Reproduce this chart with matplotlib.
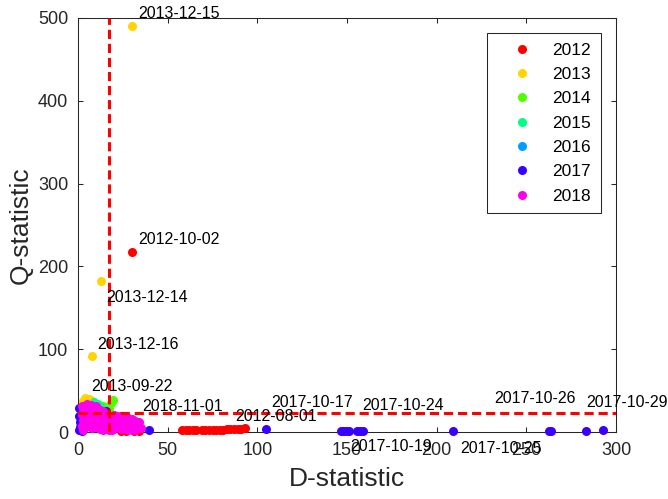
"""
Q-statistic vs D-statistic scatter, one colour per year, with
threshold lines and a few labelled outlier days.
"""

import matplotlib
matplotlib.use("Agg")
import matplotlib.pyplot as plt
from matplotlib.lines import Line2D

plt.rcParams["font.family"] = ["Liberation Sans", "DejaVu Sans"]

# ──────────────────────────────────────────────
# Data
# ──────────────────────────────────────────────
YEARS = ["2012", "2013", "2014", "2015", "2016", "2017", "2018"]

d_2012 = [30.3, 24, 27, 31, 34, 58, 60, 62, 64, 66, 69, 71, 73, 75, 77, 79, 81, 83, 85, 87, 89, 91, 93]
q_2012 = [217.8, 1, 1, 1.5, 1, 2.4, 2.4, 2.4, 2.4, 2.4, 2.4, 2.4, 2.4, 2.6, 2.6, 2.8, 3, 3.2, 3.5, 3.8, 4, 4.3, 4.5]

d_2013 = [30.3, 12.8, 7.6, 4, 6, 3, 7.5, 5, 2]
q_2013 = [490.7, 182.4, 91.8, 41, 40, 38, 39, 36, 32]

d_2014 = [19.5, 18.5, 11, 14, 17]
q_2014 = [38.5, 35, 34, 31, 28]

d_2015 = [9, 10.5, 8, 12, 6]
q_2015 = [36, 34, 33, 31, 30]

d_2016 = [4, 7, 10, 2, 13]
q_2016 = [20, 25, 22, 15, 26]

d_2017 = [0.5, 15.5, 0.8, 1, 1.2, 0.5, 2, 39.4, 104.7, 146.5, 148, 149.5, 151,
          155.5, 157, 159, 209.3, 262.5, 264, 283.3, 293]
q_2017 = [29, 26, 20, 12, 6, 2, 1, 2.5, 3.2, 1, 1, 1.5, 1,
          1, 1, 1, 1, 1, 1, 1, 3]

d_2018 = [5, 7, 10, 2, 4, 6, 8, 10, 12, 14, 3, 5, 7, 9, 11, 13, 2, 4, 6, 8, 10, 12, 14,
          3, 5, 7, 9, 11, 13, 2, 4, 6, 8, 10, 12, 14, 3, 16, 16, 16,
          18, 20, 22, 24, 26, 28, 30, 32, 34, 19, 21, 23, 25, 27, 29, 31, 33, 35,
          18, 20, 22, 24, 26, 28, 30, 32, 17, 19, 25, 27]
q_2018 = [34, 33, 31, 31, 30, 29, 28, 28, 27, 25, 28, 26, 27, 25, 24, 22, 22, 20, 22, 19, 18, 17, 16,
          15, 13, 14, 12, 11, 10, 8, 6, 8, 5, 6, 4, 3, 3, 20, 12, 5,
          20, 21, 19, 20, 18, 17, 16, 14, 12, 13, 11, 12, 10, 11, 9, 8, 6, 5,
          7, 5, 6, 4, 5, 3, 4, 3, 3, 2, 8, 6]

D_SERIES = [d_2012, d_2013, d_2014, d_2015, d_2016, d_2017, d_2018]
Q_SERIES = [q_2012, q_2013, q_2014, q_2015, q_2016, q_2017, q_2018]

# Threshold lines
D_THRESHOLD = 17.3
Q_THRESHOLD = 23.3

# Labelled days: (label, text x, text y) in data units
ANNOT_LABELS = ["2013-12-15", "2012-10-02", "2013-12-14", "2013-12-16", "2013-09-22",
                "2018-11-01", "2012-08-01", "2017-10-17", "2017-10-24", "2017-10-19",
                "2017-10-25", "2017-10-26", "2017-10-29"]
ANNOT_X = [33.6, 33.6, 16.0, 10.8, 7.6, 36.0, 87.5, 107.6, 158.6, 152.0, 213.0, 232.2, 283.2]
ANNOT_Y = [505, 233, 162.7, 106.3, 54.7, 30.6, 19.3, 36.2, 32.2, -17.7, -20, 40.3, 36.3]

# ──────────────────────────────────────────────
# Plot
# ──────────────────────────────────────────────
AX_COLOR = (0.15, 0.15, 0.15)
cmap = plt.get_cmap("hsv")
colors = [cmap(i / len(YEARS)) for i in range(len(YEARS))]

fig = plt.figure(figsize=(6.68, 4.99), dpi=100)
ax = fig.add_axes([0.1168, 0.134, 0.8054, 0.830])

for year, d, q, c in zip(YEARS, D_SERIES, Q_SERIES, colors):
    ax.plot(d, q, linestyle="none", marker="o", markersize=6.5,
            markeredgewidth=0, color=c, clip_on=False, zorder=3)

ax.axvline(D_THRESHOLD, color="red", linewidth=2.2, linestyle=(0, (3, 1.6)), zorder=4)
ax.axhline(Q_THRESHOLD, color="red", linewidth=2.2, linestyle=(0, (3, 1.6)), zorder=4)

for label, tx, ty in zip(ANNOT_LABELS, ANNOT_X, ANNOT_Y):
    ax.text(tx, ty, label, fontsize=11.5, color="black", ha="left", va="center",
            clip_on=False, zorder=5)

ax.set_xlim(0, 300)
ax.set_ylim(0, 500)
ax.set_xticks(range(0, 301, 50))
ax.set_yticks(range(0, 501, 100))
ax.tick_params(direction="in", length=3.6, width=0.75, top=True, right=True,
               labelsize=13, colors=AX_COLOR, pad=7)
for sp in ax.spines.values():
    sp.set_color(AX_COLOR)
    sp.set_linewidth(0.75)

ax.set_xlabel("D-statistic", fontsize=19, color=AX_COLOR, labelpad=6)
ax.set_ylabel("Q-statistic", fontsize=19, color=AX_COLOR, labelpad=4)

handles = [Line2D([], [], linestyle="none", marker="o", markersize=6.5,
                  markeredgewidth=0, color=c) for c in colors]
leg = ax.legend(handles, YEARS, loc="upper right", bbox_to_anchor=(0.9716, 0.9638),
                borderaxespad=0, fontsize=12.5, frameon=True, fancybox=False,
                framealpha=1, edgecolor=AX_COLOR, labelspacing=0.53,
                handlelength=2.9, handletextpad=0.3, borderpad=0.55)
leg.get_frame().set_linewidth(0.75)

fig.savefig("out.png", dpi=100)
